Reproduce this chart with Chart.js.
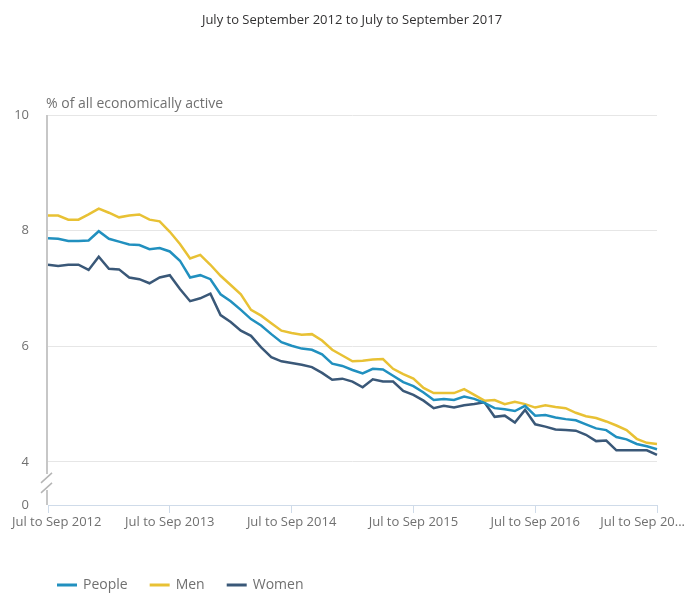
<!DOCTYPE html>
<html>
<head>
<meta charset="utf-8">
<script src="https://cdn.jsdelivr.net/npm/chart.js@4.4.1/dist/chart.umd.min.js"></script>
<style>
  html, body { margin: 0; padding: 0; background: #fff; }
</style>
</head>
<body>
<canvas id="myChart" width="688" height="594"></canvas>
<script>
const labels = [
  "Jul to Sep 2012", "Aug to Oct 2012", "Sep to Nov 2012", "Oct to Dec 2012",
  "Nov to Jan 2013", "Dec to Feb 2013", "Jan to Mar 2013", "Feb to Apr 2013",
  "Mar to May 2013", "Apr to Jun 2013", "May to Jul 2013", "Jun to Aug 2013",
  "Jul to Sep 2013", "Aug to Oct 2013", "Sep to Nov 2013", "Oct to Dec 2013",
  "Nov to Jan 2014", "Dec to Feb 2014", "Jan to Mar 2014", "Feb to Apr 2014",
  "Mar to May 2014", "Apr to Jun 2014", "May to Jul 2014", "Jun to Aug 2014",
  "Jul to Sep 2014", "Aug to Oct 2014", "Sep to Nov 2014", "Oct to Dec 2014",
  "Nov to Jan 2015", "Dec to Feb 2015", "Jan to Mar 2015", "Feb to Apr 2015",
  "Mar to May 2015", "Apr to Jun 2015", "May to Jul 2015", "Jun to Aug 2015",
  "Jul to Sep 2015", "Aug to Oct 2015", "Sep to Nov 2015", "Oct to Dec 2015",
  "Nov to Jan 2016", "Dec to Feb 2016", "Jan to Mar 2016", "Feb to Apr 2016",
  "Mar to May 2016", "Apr to Jun 2016", "May to Jul 2016", "Jun to Aug 2016",
  "Jul to Sep 2016", "Aug to Oct 2016", "Sep to Nov 2016", "Oct to Dec 2016",
  "Nov to Jan 2017", "Dec to Feb 2017", "Jan to Mar 2017", "Feb to Apr 2017",
  "Mar to May 2017", "Apr to Jun 2017", "May to Jul 2017", "Jun to Aug 2017",
  "Jul to Sep 2017"
];

const people = [
  7.87, 7.86, 7.82, 7.82, 7.83, 7.99, 7.86, 7.81, 7.76, 7.75, 7.68, 7.70, 7.64,
  7.48, 7.19, 7.23, 7.16, 6.90, 6.78, 6.63, 6.47, 6.36, 6.21, 6.07, 6.01,
  5.96, 5.94, 5.86, 5.70, 5.66, 5.59, 5.53, 5.61, 5.60, 5.49, 5.38, 5.31,
  5.20, 5.07, 5.09, 5.07, 5.13, 5.09, 5.02, 4.93, 4.91, 4.88, 4.97, 4.80,
  4.81, 4.77, 4.74, 4.72, 4.65, 4.58, 4.55, 4.43, 4.39, 4.31, 4.27, 4.22
];

const men = [
  8.26, 8.26, 8.19, 8.19, 8.28, 8.38, 8.31, 8.23, 8.26, 8.28, 8.19, 8.16, 7.98,
  7.77, 7.52, 7.58, 7.41, 7.22, 7.06, 6.90, 6.63, 6.53, 6.40, 6.27, 6.23,
  6.20, 6.21, 6.10, 5.94, 5.84, 5.74, 5.75, 5.77, 5.78, 5.61, 5.52, 5.44,
  5.28, 5.19, 5.19, 5.19, 5.26, 5.16, 5.06, 5.07, 5.00, 5.04, 5.00, 4.94,
  4.98, 4.95, 4.93, 4.85, 4.79, 4.76, 4.70, 4.63, 4.55, 4.40, 4.33, 4.31
];

const women = [
  7.41, 7.39, 7.41, 7.41, 7.32, 7.55, 7.34, 7.33, 7.19, 7.16, 7.09, 7.19, 7.23,
  6.99, 6.78, 6.83, 6.91, 6.54, 6.42, 6.27, 6.18, 5.98, 5.81, 5.74, 5.71,
  5.68, 5.64, 5.54, 5.42, 5.44, 5.39, 5.29, 5.43, 5.39, 5.39, 5.23, 5.16,
  5.06, 4.93, 4.97, 4.94, 4.98, 5.00, 5.03, 4.78, 4.80, 4.68, 4.90, 4.65,
  4.61, 4.56, 4.55, 4.54, 4.47, 4.36, 4.37, 4.20, 4.20, 4.20, 4.20, 4.12
];

const yTicks = [4, 6, 8, 10];
// axis is broken between 4 and 0, "0" sits at this value
const zeroAt = 3.255;

const colors = { people: '#2190bf', men: '#e8c134', women: '#3a5878' };
const textGrey = '#707070';

const extras = {
  id: 'extras',
  afterDraw(chart) {
    const { ctx, chartArea } = chart;
    const x = chart.scales.x;
    const y = chart.scales.y;
    ctx.save();

    // title
    ctx.fillStyle = '#323132';
    ctx.font = '13px "Open Sans"';
    ctx.textAlign = 'center';
    ctx.textBaseline = 'middle';
    ctx.fillText('July to September 2012 to July to September 2017', 352, 20);

    // x tick labels, kept inside the canvas like the original
    ctx.fillStyle = textGrey;
    x.ticks.forEach((t, i) => {
      let text = labels[t.value];
      let w = ctx.measureText(text).width;
      if (x.getPixelForTick(i) + w / 2 > chart.width - 3) {
        text = text.slice(0, 13) + '...';
        w = ctx.measureText(text).width;
      }
      const px = Math.min(Math.max(x.getPixelForTick(i), 12 + w / 2), chart.width - 3 - w / 2);
      ctx.fillText(text, px, chartArea.bottom + 17);
    });

    // axis title
    ctx.font = '14px "Open Sans"';
    ctx.textAlign = 'left';
    ctx.fillText('% of all economically active', 46, 104);

    // y axis line with break
    const ax = chartArea.left - 1;
    const y4 = y.getPixelForValue(4);
    ctx.strokeStyle = '#b5b5b5';
    ctx.lineWidth = 1.5;
    ctx.beginPath();
    ctx.moveTo(ax, chartArea.top);
    ctx.lineTo(ax, y4 + 12);
    ctx.moveTo(ax, y4 + 28);
    ctx.lineTo(ax, chartArea.bottom);
    ctx.moveTo(ax - 6, y4 + 21);
    ctx.lineTo(ax + 5, y4 + 11);
    ctx.moveTo(ax - 6, y4 + 31);
    ctx.lineTo(ax + 5, y4 + 21);
    ctx.stroke();

    // legend
    let lx = 57;
    const ly = 585;
    chart.data.datasets.forEach(ds => {
      ctx.strokeStyle = ds.borderColor;
      ctx.lineWidth = 3;
      ctx.beginPath();
      ctx.moveTo(lx, ly);
      ctx.lineTo(lx + 20, ly);
      ctx.stroke();
      ctx.fillStyle = textGrey;
      ctx.fillText(ds.label, lx + 26, ly);
      lx += 26 + ctx.measureText(ds.label).width + 22;
    });
    ctx.restore();
  }
};

const data = {
  labels: labels,
  datasets: [
    { label: 'People', data: people, borderColor: colors.people },
    { label: 'Men', data: men, borderColor: colors.men },
    { label: 'Women', data: women, borderColor: colors.women }
  ]
};

const config = {
  type: 'line',
  data: data,
  options: {
    responsive: false,
    animation: false,
    layout: { padding: { top: 115, right: 31, left: 0, bottom: 0 } },
    elements: {
      line: { borderWidth: 2.5, tension: 0 },
      point: { radius: 0 }
    },
    plugins: {
      legend: { display: false },
      tooltip: { enabled: false }
    },
    scales: {
      x: {
        offset: false,
        grid: {
          drawOnChartArea: false,
          drawTicks: true,
          tickLength: 8,
          color: '#cfdbe9'
        },
        border: { color: '#cfdbe9' },
        afterBuildTicks: scale => {
          scale.ticks = scale.ticks.filter(t => t.value % 12 === 0);
        },
        afterFit: scale => {
          scale.height = 89;
          scale.paddingLeft = 0;
          scale.paddingRight = 0;
        },
        ticks: {
          display: false,
          autoSkip: false,
          maxRotation: 0,
          font: { family: 'Open Sans', size: 13 }
        }
      },
      y: {
        min: zeroAt,
        max: 10,
        border: { display: false },
        grid: {
          drawTicks: false,
          color: ctx => ctx.tick && ctx.tick.value === zeroAt ? 'rgba(0,0,0,0)' : '#e6e6e6'
        },
        afterBuildTicks: scale => {
          scale.ticks = [zeroAt].concat(yTicks).map(v => ({ value: v }));
        },
        afterFit: scale => {
          scale.width = 48;
          scale.paddingTop = 0;
          scale.paddingBottom = 0;
        },
        ticks: {
          padding: 19,
          color: textGrey,
          font: { family: 'Open Sans', size: 13 },
          callback: v => v === zeroAt ? '0' : v
        }
      }
    }
  },
  plugins: [extras]
};

const myChart = new Chart(
  document.getElementById('myChart'),
  config
);
</script>
</body>
</html>
